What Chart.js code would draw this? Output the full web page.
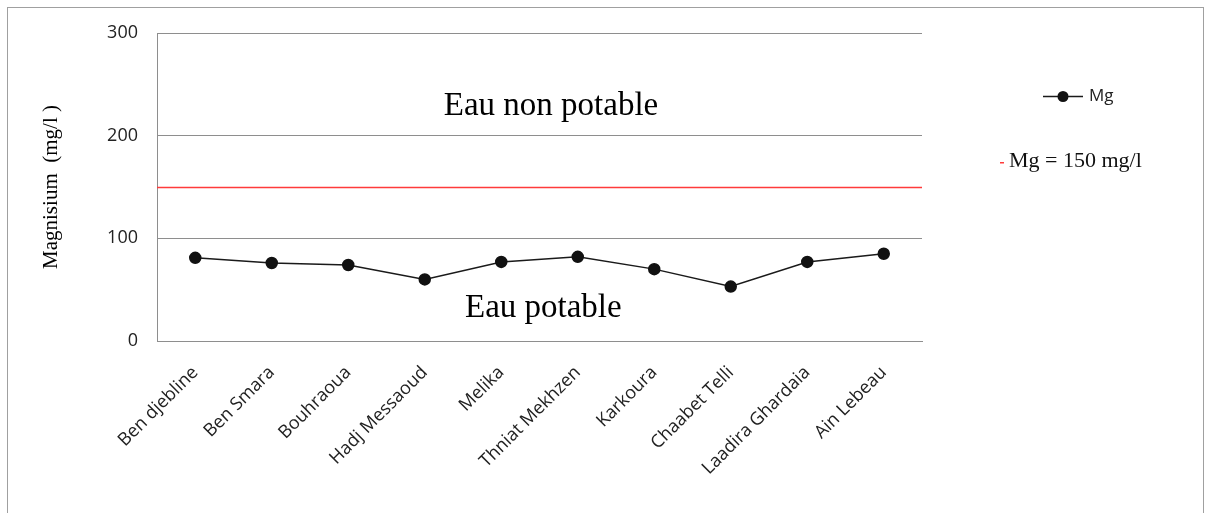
<!DOCTYPE html>
<html>
<head>
<meta charset="utf-8">
<script src="https://cdn.jsdelivr.net/npm/chart.js@4"></script>
<style>
  html, body { margin: 0; padding: 0; background: #fff; }
</style>
</head>
<body>
<canvas id="mg-chart" width="1211" height="513"></canvas>
<script>
const sites = ["Ben djebline", "Ben Smara", "Bouhraoua", "Hadj Messaoud", "Melika",
  "Thniat Mekhzen", "Karkoura", "Chaabet Telli", "Laadira Ghardaia", "Ain Lebeau"];
const mgValues = [81, 76, 74, 60, 77, 82, 70, 53, 77, 85];
const yTicks = [0, 100, 200, 300];
const limitValue = 150;
const zoneLabels = ["Eau non potable", "Eau potable"];

const gridGray = "#8e8e8e";

// frame, red limit, zone texts and a hand-drawn legend
const decorations = {
  id: "decorations",
  beforeDraw(chart) {
    const { ctx } = chart;
    ctx.save();
    ctx.fillStyle = "#fff";
    ctx.fillRect(0, 0, chart.width, chart.height);
    ctx.strokeStyle = "#a0a0a0";
    ctx.lineWidth = 1;
    ctx.strokeRect(7.5, 7.5, 1196, 520);
    ctx.restore();
  },
  beforeDatasetsDraw(chart) {
    const { ctx, chartArea } = chart;
    const y = Math.round(chart.scales.y.getPixelForValue(limitValue)) + 0.5;
    ctx.save();
    ctx.strokeStyle = "#ff3b3b";
    ctx.lineWidth = 1.5;
    ctx.beginPath();
    ctx.moveTo(chartArea.left, y);
    ctx.lineTo(chartArea.right, y);
    ctx.stroke();
    ctx.restore();
  },
  afterDatasetsDraw(chart) {
    const { ctx } = chart;
    const xs = chart.scales.x, ys = chart.scales.y;
    ctx.save();
    ctx.fillStyle = "#000";
    ctx.font = "33px 'Liberation Serif'";
    ctx.textAlign = "center";
    ctx.textBaseline = "middle";
    ctx.fillText(zoneLabels[0], xs.getPixelForValue(4.65), ys.getPixelForValue(229));
    ctx.fillText(zoneLabels[1], xs.getPixelForValue(4.55), ys.getPixelForValue(32));

    // legend
    const ds = chart.data.datasets[0];
    ctx.strokeStyle = ds.borderColor;
    ctx.lineWidth = 1.5;
    ctx.beginPath();
    ctx.moveTo(1043, 96.5);
    ctx.lineTo(1083, 96.5);
    ctx.stroke();
    ctx.fillStyle = ds.pointBackgroundColor;
    ctx.beginPath();
    ctx.arc(1063, 96.5, 5.5, 0, Math.PI * 2);
    ctx.fill();
    ctx.fillStyle = "#222";
    ctx.textAlign = "left";
    ctx.font = "17px 'Open Sans'";
    ctx.fillText(ds.label, 1089, 96);

    ctx.fillStyle = "#ff3b3b";
    ctx.fillRect(1000, 162, 4, 1.5);
    ctx.fillStyle = "#111";
    ctx.font = "22px 'Liberation Serif'";
    ctx.fillText("Mg = " + limitValue + " mg/l", 1009, 161);
    ctx.restore();
  }
};

new Chart(document.getElementById("mg-chart"), {
  type: "line",
  data: {
    labels: sites,
    datasets: [{
      label: "Mg",
      data: mgValues,
      borderColor: "#1a1a1a",
      borderWidth: 1.5,
      pointBackgroundColor: "#111",
      pointBorderColor: "#111",
      pointRadius: 5.5,
      pointHoverRadius: 5.5,
      tension: 0
    }]
  },
  options: {
    responsive: false,
    animation: false,
    layout: { padding: { left: 0, top: 33, right: 289, bottom: 0 } },
    plugins: {
      legend: { display: false },
      tooltip: { enabled: false }
    },
    scales: {
      x: {
        offset: true,
        grid: { display: false, drawTicks: false },
        border: { display: true, color: gridGray, width: 1 },
        ticks: {
          autoSkip: false,
          minRotation: 45,
          maxRotation: 45,
          padding: 21,
          color: "#222",
          font: { family: "'Open Sans'", size: 18 }
        },
        afterFit(scale) { scale.height = 172; }
      },
      y: {
        min: 0,
        max: 300,
        afterBuildTicks(scale) { scale.ticks = yTicks.map(v => ({ value: v })); },
        grid: { color: gridGray, drawTicks: false, lineWidth: 1 },
        border: { display: true, color: gridGray, width: 1 },
        ticks: {
          padding: 19,
          color: "#222",
          font: { family: "'Open Sans'", size: 18 }
        },
        title: {
          display: true,
          text: "Magnisium  (mg/l )",
          color: "#000",
          padding: { top: 39, bottom: 0 },
          font: { family: "'Liberation Serif'", size: 21 }
        },
        afterFit(scale) { scale.width = 157; }
      }
    }
  },
  plugins: [decorations]
});
</script>
</body>
</html>
